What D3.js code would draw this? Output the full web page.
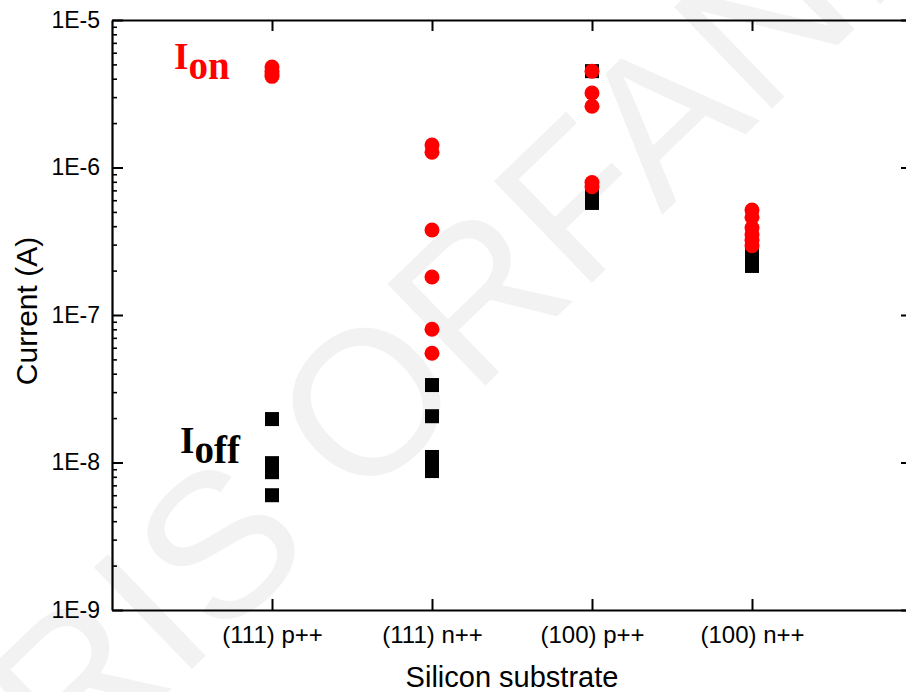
<!DOCTYPE html>
<html>
<head>
<meta charset="utf-8">
<script src="https://cdn.jsdelivr.net/npm/d3@7"></script>
<style>
  html, body { margin: 0; padding: 0; background: #fff; }
  svg { display: block; }
</style>
</head>
<body>
<svg id="chart" width="906" height="692"></svg>
<script>
// Substrate categories along the x axis
const categories = ["(111) p++", "(111) n++", "(100) p++", "(100) n++"];

// On-state current (A), one list per substrate
const ion_111p = [4.8e-6, 4.5e-6, 4.3e-6, 4.15e-6];
const ion_111n = [1.42e-6, 1.27e-6, 3.77e-7, 1.81e-7, 8.0e-8, 5.5e-8];
const ion_100p = [4.5e-6, 3.2e-6, 2.6e-6, 7.9e-7, 7.4e-7];
const ion_100n = [5.15e-7, 4.6e-7, 3.9e-7, 3.5e-7, 3.2e-7, 2.95e-7];

// Off-state current (A), one list per substrate
const ioff_111p = [1.97e-8, 9.9e-9, 8.6e-9, 6.0e-9];
const ioff_111n = [3.35e-8, 2.06e-8, 1.09e-8, 9.8e-9, 8.75e-9];
const ioff_100p = [4.5e-6, 6.9e-7, 6.1e-7, 5.75e-7];
const ioff_100n = [2.67e-7, 2.4e-7, 2.15e-7];

// Decade ticks on the current axis
const yMajorTicks = [1e-9, 1e-8, 1e-7, 1e-6, 1e-5];
const yTickLabels = ["1E-9", "1E-8", "1E-7", "1E-6", "1E-5"];

const ionSets = [ion_111p, ion_111n, ion_100p, ion_100n];
const ioffSets = [ioff_111p, ioff_111n, ioff_100p, ioff_100n];

const svg = d3.select("#chart");
const plotL = 112, plotR = 912, plotT = 20, plotB = 610;

const x = d3.scaleLinear().domain([0, categories.length + 1]).range([plotL, plotR]);
const y = d3.scaleLog().domain([1e-9, 1e-5]).range([plotB, plotT]);

// faint diagonal watermark
svg.append("text")
  .attr("transform", "translate(440,330) rotate(-44)")
  .attr("text-anchor", "middle")
  .attr("dominant-baseline", "central")
  .attr("font-family", "Liberation Sans, Arial, sans-serif")
  .attr("font-size", 205)
  .attr("fill", "#f2f2f2")
  .text("RIS ORFANI");

const minorTicks = [];
for (let e = -9; e < -5; e++) {
  for (let m = 2; m <= 9; m++) minorTicks.push(m * Math.pow(10, e));
}
const xTicks = categories.map((_, i) => i + 1);

const fmtY = v => yTickLabels[yMajorTicks.findIndex(t => Math.abs(t - v) / t < 1e-6)];

function styleAxis(g) {
  g.select(".domain").attr("stroke", "#000").attr("stroke-width", 2.2);
  g.selectAll(".tick line").attr("stroke", "#000").attr("stroke-width", 2);
  g.selectAll(".tick text").attr("fill", "#000")
    .attr("font-family", "Liberation Sans, Arial, sans-serif");
}
function minorStyle(g) {
  g.select(".domain").remove();
  g.selectAll(".tick line").attr("stroke", "#000").attr("stroke-width", 1.6);
}

// left axis: labelled decades + inward minor ticks
svg.append("g").attr("transform", `translate(${plotL},0)`)
  .call(d3.axisLeft(y).tickValues(minorTicks).tickSize(-5).tickSizeOuter(0).tickFormat(""))
  .call(minorStyle);
svg.append("g").attr("transform", `translate(${plotL},0)`)
  .call(d3.axisLeft(y).tickValues(yMajorTicks).tickSize(-11).tickSizeOuter(0).tickPadding(12).tickFormat(fmtY))
  .call(styleAxis)
  .call(g => g.selectAll(".tick text").attr("font-size", 23));

// right axis: ticks only
svg.append("g").attr("transform", `translate(${plotR},0)`)
  .call(d3.axisRight(y).tickValues(minorTicks).tickSize(-5).tickSizeOuter(0).tickFormat(""))
  .call(minorStyle);
svg.append("g").attr("transform", `translate(${plotR},0)`)
  .call(d3.axisRight(y).tickValues(yMajorTicks).tickSize(-11).tickSizeOuter(0).tickFormat(""))
  .call(styleAxis);

// bottom axis with substrate labels
svg.append("g").attr("transform", `translate(0,${plotB})`)
  .call(d3.axisBottom(x).tickValues(xTicks).tickSize(-11).tickSizeOuter(0).tickPadding(16)
    .tickFormat(d => categories[d - 1]))
  .call(styleAxis)
  .call(g => g.selectAll(".tick text").attr("font-size", 24));

// top axis: ticks only
svg.append("g").attr("transform", `translate(0,${plotT})`)
  .call(d3.axisTop(x).tickValues(xTicks).tickSize(-11).tickSizeOuter(0).tickFormat(""))
  .call(styleAxis);

// axis titles
svg.append("text")
  .attr("x", (plotL + plotR) / 2).attr("y", 687)
  .attr("text-anchor", "middle")
  .attr("font-family", "Liberation Sans, Arial, sans-serif")
  .attr("font-size", 29)
  .text("Silicon substrate");

svg.append("text")
  .attr("transform", "translate(37,311) rotate(-90)")
  .attr("text-anchor", "middle")
  .attr("font-family", "Liberation Sans, Arial, sans-serif")
  .attr("font-size", 30)
  .text("Current (A)");

// off-state points: black squares
const sq = 14;
ioffSets.forEach((vals, i) => {
  svg.append("g").selectAll("rect").data(vals).join("rect")
    .attr("x", x(i + 1) - sq / 2)
    .attr("y", d => y(d) - sq / 2)
    .attr("width", sq).attr("height", sq)
    .attr("fill", "#000");
});

// on-state points: red circles
ionSets.forEach((vals, i) => {
  svg.append("g").selectAll("circle").data(vals).join("circle")
    .attr("cx", x(i + 1))
    .attr("cy", d => y(d))
    .attr("r", 7.5)
    .attr("fill", "#ff0000");
});

// series labels with subscripts
function seriesLabel(xp, yp, sub, color) {
  const t = svg.append("text")
    .attr("x", xp).attr("y", yp)
    .attr("font-family", "Liberation Serif, Times New Roman, serif")
    .attr("font-weight", "bold")
    .attr("fill", color);
  t.append("tspan").attr("font-size", 37).text("I");
  t.append("tspan").attr("font-size", 39).attr("dy", 10).text(sub);
}
seriesLabel(174, 69, "on", "#ff0000");
seriesLabel(180, 453, "off", "#000");
</script>
</body>
</html>
